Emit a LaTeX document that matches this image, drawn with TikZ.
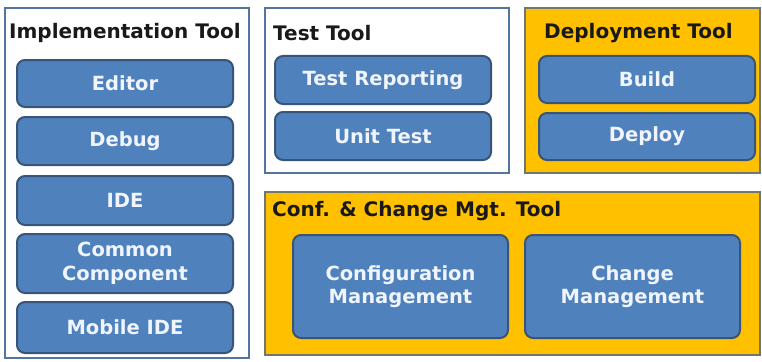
\documentclass[tikz,border=0pt]{standalone}
\usepackage{fontspec}
\setmainfont{DejaVu Sans}
\usetikzlibrary{positioning}
\definecolor{itemblue}{RGB}{79,129,189}
\definecolor{itemedge}{RGB}{56,84,120}
\definecolor{itemtext}{RGB}{240,244,252}
\definecolor{frameblue}{RGB}{84,118,158}
\definecolor{toolorange}{RGB}{255,192,0}
\definecolor{frameorange}{RGB}{112,120,110}
\tikzset{
  toolbox/.style={draw=frameblue, line width=2.4pt, fill=white, inner sep=0pt},
  orangebox/.style={toolbox, draw=frameorange, fill=toolorange},
  itembox/.style={draw=itemedge, line width=2pt, fill=itemblue, rounded corners=8pt,
    text=itemtext, align=center, inner sep=0pt,
    font=\fontsize{19.5}{23.5}\selectfont\bfseries},
  tooltitle/.style={anchor=west, inner sep=0pt, text=black!90,
    font=\fontsize{20}{22}\selectfont\bfseries}
}
\begin{document}
\begin{tikzpicture}[x=1pt, y={(0,-1pt)}]
\useasboundingbox (0,0) rectangle (762,361);

% tool frames
\node[toolbox, minimum width=244, minimum height=350] (impl) at (127,183) {};
\node[toolbox, minimum width=244, minimum height=165] (test) at (387,90.5) {};
\node[orangebox, minimum width=235, minimum height=165] (deploy) at (642.5,90.5) {};
\node[orangebox, minimum width=495, minimum height=163] (conf) at (512.5,273.5) {};

% titles
\node[tooltitle] (impltitle) at (9,33) {Implementation Tool};
\node[tooltitle] (testtitle) at (273,33) {Test Tool};
\node[tooltitle] (deploytitle) at (544,33) {Deployment Tool};
\node[tooltitle] (conftitle) at (272,211) {Conf. \& Change Mgt. Tool};

% implementation items
\node[itembox, minimum width=216, minimum height=47] (editor) at (125,83.5) {Editor};
\node[itembox, minimum width=216, minimum height=48] (debug) at (125,141) {Debug};
\node[itembox, minimum width=216, minimum height=49] (ide) at (125,200.5) {IDE};
\node[itembox, minimum width=216, minimum height=59] (common) at (125,263.5) {Common\\Component};
\node[itembox, minimum width=216, minimum height=51] (mobile) at (125,327.5) {Mobile IDE};

% test items
\node[itembox, minimum width=216, minimum height=48] (testrep) at (383,80) {Test Reporting};
\node[itembox, minimum width=216, minimum height=48] (unittest) at (383,136) {Unit Test};

% deployment items
\node[itembox, minimum width=216, minimum height=47] (build) at (647,79.5) {Build};
\node[itembox, minimum width=216, minimum height=47] (deployitem) at (647,136.5) {Deploy};

% configuration items
\node[itembox, minimum width=215, minimum height=103] (confmgt) at (400.5,286.5) {Configuration\\Management};
\node[itembox, minimum width=215, minimum height=103] (chgmgt) at (632.5,286.5) {Change\\Management};
\end{tikzpicture}
\end{document}
